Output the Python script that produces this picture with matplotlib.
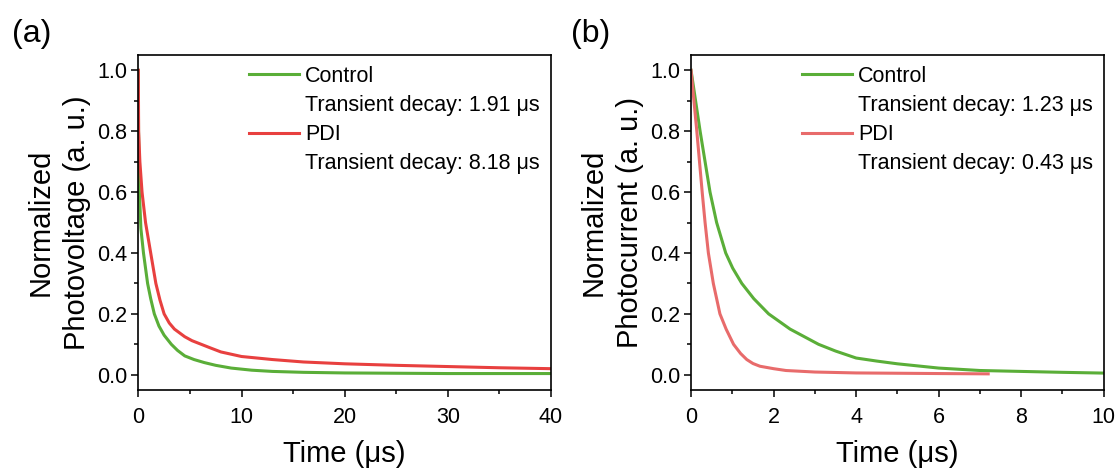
import matplotlib
matplotlib.use("Agg")
from matplotlib import pyplot as plt
from matplotlib.lines import Line2D
from matplotlib.ticker import MultipleLocator

plt.rcParams['font.family'] = ['Liberation Sans', 'DejaVu Sans']

# (a) transient photovoltage
tpv_control_t = [0, 0.02, 0.1, 0.25, 0.5, 0.9, 1.2, 1.55, 2.0, 2.5, 3.2, 3.8, 4.5,
                 5.4, 6.4, 7.5, 9, 11, 13, 16, 20, 25, 30, 35, 40]
tpv_control_v = [1.0, 0.8, 0.6, 0.48, 0.4, 0.3, 0.25, 0.2, 0.16, 0.13, 0.1, 0.08, 0.062,
                 0.05, 0.04, 0.031, 0.022, 0.015, 0.011, 0.008, 0.006, 0.005, 0.004, 0.004, 0.004]
tpv_pdi_t = [0, 0.03, 0.15, 0.36, 0.7, 1.2, 1.7, 2.1, 2.5, 3.0, 3.5, 4.5, 5.2, 6.1, 7.0,
             8, 10, 13, 16, 20, 25, 30, 35, 40]
tpv_pdi_v = [1.0, 0.8, 0.7, 0.6, 0.5, 0.4, 0.3, 0.245, 0.2, 0.17, 0.15, 0.125, 0.112, 0.1, 0.088,
             0.075, 0.06, 0.05, 0.042, 0.036, 0.031, 0.027, 0.023, 0.02]

# (b) transient photocurrent
tpc_control_t = [0, 0.22, 0.46, 0.62, 0.84, 1.01, 1.23, 1.52, 1.88, 2.4, 3.09, 3.5, 4.0,
                 4.5, 5, 6, 7, 8, 9, 10]
tpc_control_v = [1.0, 0.8, 0.6, 0.5, 0.4, 0.35, 0.3, 0.25, 0.2, 0.15, 0.1, 0.078, 0.055,
                 0.045, 0.036, 0.022, 0.014, 0.011, 0.008, 0.0055]
tpc_pdi_t = [0, 0.14, 0.27, 0.34, 0.42, 0.54, 0.62, 0.70, 0.85, 1.03, 1.2, 1.35, 1.5, 1.67,
             2.0, 2.3, 3, 4, 5, 6, 7.2]
tpc_pdi_v = [1.0, 0.8, 0.6, 0.5, 0.4, 0.3, 0.25, 0.2, 0.15, 0.1, 0.07, 0.05, 0.037, 0.028,
             0.02, 0.014, 0.009, 0.006, 0.005, 0.004, 0.003]

green = '#5aae38'
red_a = '#e8403f'
red_b = '#e86b6b'

fig = plt.figure(figsize=(11.2, 4.73), dpi=100)
ax1 = fig.add_axes([0.1235, 0.1755, 0.3685, 0.708])
ax2 = fig.add_axes([0.617, 0.1755, 0.3685, 0.708])

ax1.plot(tpv_control_t, tpv_control_v, color=green, lw=2.2)
ax1.plot(tpv_pdi_t, tpv_pdi_v, color=red_a, lw=2.2)
ax2.plot(tpc_control_t, tpc_control_v, color=green, lw=2.2)
ax2.plot(tpc_pdi_t, tpc_pdi_v, color=red_b, lw=2.2)

ax1.set_xlim(0, 40)
ax2.set_xlim(0, 10)
ax1.xaxis.set_major_locator(MultipleLocator(10))
ax1.xaxis.set_minor_locator(MultipleLocator(5))
ax2.xaxis.set_major_locator(MultipleLocator(2))
ax2.xaxis.set_minor_locator(MultipleLocator(1))

labels = [
    (ax1, 'Normalized\nPhotovoltage (a. u.)', red_a, ['1.91', '8.18'], '(a)', 0.011),
    (ax2, 'Normalized\nPhotocurrent (a. u.)', red_b, ['1.23', '0.43'], '(b)', 0.510),
]
for ax, ylab, red, taus, tag, tx in labels:
    ax.set_ylim(-0.05, 1.05)
    ax.yaxis.set_major_locator(MultipleLocator(0.2))
    ax.yaxis.set_minor_locator(MultipleLocator(0.1))
    ax.yaxis.set_major_formatter(plt.FormatStrFormatter('%.1f'))
    ax.tick_params(which='major', direction='out', length=5, width=1.1, labelsize=15.5)
    ax.tick_params(which='minor', direction='out', length=3, width=1.1)
    ax.tick_params(axis='x', which='major', pad=7)
    ax.tick_params(axis='y', which='major', pad=3)
    for s in ax.spines.values():
        s.set_linewidth(1.2)
    ax.set_xlabel('Time (μs)', fontsize=21, labelpad=9)
    ax.set_ylabel(ylab, fontsize=21, labelpad=4, linespacing=1.4)
    handles = [Line2D([], [], color=green, lw=2.2),
               Line2D([], [], color='none'),
               Line2D([], [], color=red, lw=2.2),
               Line2D([], [], color='none')]
    names = ['Control', 'Transient decay: %s μs' % taus[0],
             'PDI', 'Transient decay: %s μs' % taus[1]]
    ax.legend(handles, names, loc='upper left', bbox_to_anchor=(0.269, 0.968),
              frameon=False, fontsize=15.5, handlelength=2.3, handletextpad=0.3,
              labelspacing=0.38, borderpad=0, borderaxespad=0)
    fig.text(tx, 0.928, tag, fontsize=23, va='center', ha='left')

fig.savefig('out.png', dpi=100)
